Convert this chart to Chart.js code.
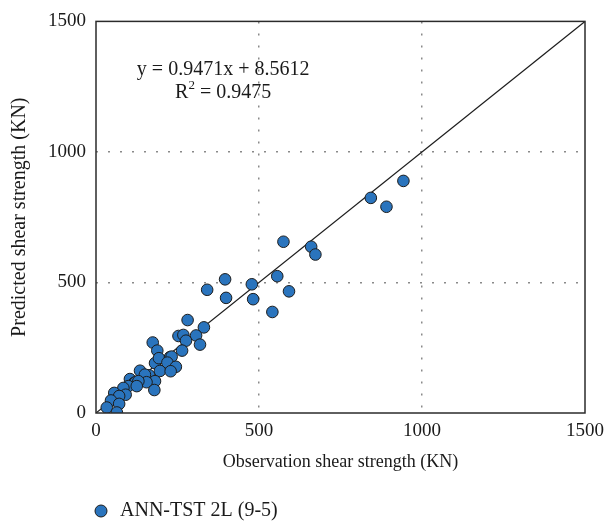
<!DOCTYPE html>
<html>
<head>
<meta charset="utf-8">
<script src="https://cdn.jsdelivr.net/npm/chart.js@4/dist/chart.umd.min.js"></script>
<style>
  html, body { margin: 0; padding: 0; background: #fff; }
  #wrap { width: 612px; height: 526px; }
</style>
</head>
<body>
<div id="wrap"><canvas id="scatterChart"></canvas></div>
<script>
// du lieu doc tu hinh
const obsValues = [943, 843, 891, 575, 660, 673, 556, 592, 541, 478, 482, 396, 399, 341,
  281, 331, 253, 268, 307, 276, 319, 174, 188, 264, 181, 193, 227, 232, 219, 245,
  196, 229, 135, 163, 150, 181, 155, 179, 104, 117, 122, 130, 99, 125, 84, 91, 56,
  71, 46, 33, 71, 64];
const predValues = [889, 824, 790, 656, 637, 607, 524, 466, 387, 493, 436, 512, 441, 472,
  356, 328, 295, 299, 297, 277, 262, 270, 239, 239, 191, 210, 214, 216, 193, 177,
  161, 160, 162, 144, 147, 122, 118, 88, 130, 115, 119, 122, 103, 103, 96, 70, 77,
  65, 48, 21, 35, 2];
const axisTicks = [0, 500, 1000, 1500];
const lineX = [0, 1500];
const seriesName = 'ANN-TST 2L (9-5)';
const eqText = 'y = 0.9471x + 8.5612';
const r2Text = 'R';
const r2Value = ' = 0.9475';

const FONT = '"Liberation Serif", "DejaVu Serif", serif';
const DOT_FILL = '#2a74bd';
const DOT_EDGE = '#1c1c1c';

const points = obsValues.map((v, i) => ({ x: v, y: predValues[i] }));
const linePts = lineX.map(v => ({ x: v, y: v }));

// ve khung, phuong trinh va chu giai
const boxPlugin = {
  id: 'boxPlugin',
  afterDraw(chart) {
    const c = chart.ctx;
    const a = chart.chartArea;
    const xs = chart.scales.x, ys = chart.scales.y;
    c.save();
    c.strokeStyle = '#2b2b2b';
    c.lineWidth = 1.5;
    c.strokeRect(a.left, a.top, a.right - a.left, a.bottom - a.top);

    c.fillStyle = '#1a1a1a';
    c.font = '20px ' + FONT;
    c.textAlign = 'center';
    c.textBaseline = 'middle';
    const cx = xs.getPixelForValue(390);
    c.fillText(eqText, cx, ys.getPixelForValue(1314));
    // R^2
    const y2 = ys.getPixelForValue(1227);
    const wR = c.measureText(r2Text).width;
    const wV = c.measureText(r2Value).width;
    c.font = '13px ' + FONT;
    const wS = c.measureText('2').width;
    const total = wR + wS + wV;
    const x0 = cx - total / 2;
    c.textAlign = 'left';
    c.font = '20px ' + FONT;
    c.fillText(r2Text, x0, y2);
    c.font = '13px ' + FONT;
    c.fillText('2', x0 + wR, y2 - 7);
    c.font = '20px ' + FONT;
    c.fillText(r2Value, x0 + wR + wS, y2);

    // chu giai
    c.beginPath();
    c.arc(101, 511, 6, 0, Math.PI * 2);
    c.fillStyle = DOT_FILL;
    c.fill();
    c.lineWidth = 1;
    c.strokeStyle = DOT_EDGE;
    c.stroke();
    c.fillStyle = '#1a1a1a';
    c.font = '20px ' + FONT;
    c.fillText(seriesName, 120, 511);
    c.restore();
  }
};

const gridColor = ctx => {
  const v = ctx.tick ? ctx.tick.value : null;
  return (v === 500 || v === 1000) ? '#8a8a8a' : 'rgba(0,0,0,0)';
};

const ctx = document.getElementById('scatterChart').getContext('2d');
const chart = new Chart(ctx, {
  type: 'scatter',
  data: {
    datasets: [{
      label: seriesName,
      data: points,
      backgroundColor: DOT_FILL,
      borderColor: DOT_EDGE,
      borderWidth: 1,
      pointRadius: 5.8,
      order: 1
    }, {
      type: 'line',
      label: 'line',
      data: linePts,
      borderColor: '#1e1e1e',
      borderWidth: 1.2,
      pointRadius: 0,
      fill: false,
      order: 2
    }]
  },
  options: {
    responsive: true,
    maintainAspectRatio: false,
    animation: false,
    layout: { padding: { left: 8, right: 27, top: 11, bottom: 53 } },
    scales: {
      x: {
        type: 'linear',
        min: 0, max: 1500,
        afterBuildTicks: s => { s.ticks = axisTicks.map(v => ({ value: v })); },
        grid: { color: gridColor, drawTicks: false, lineWidth: 1.5 },
        border: { display: false, dash: [2, 10] },
        ticks: { color: '#1a1a1a', font: { family: FONT, size: 19 }, padding: 7, maxRotation: 0,
                 callback: v => String(v) },
        title: { display: true, text: 'Observation shear strength (KN)', color: '#1a1a1a',
                 font: { family: FONT, size: 18 }, padding: { top: 4, bottom: 0 } },
        afterFit: s => { s.height = 60; }
      },
      y: {
        type: 'linear',
        min: 0, max: 1500,
        afterBuildTicks: s => { s.ticks = axisTicks.map(v => ({ value: v })); },
        grid: { color: gridColor, drawTicks: false, lineWidth: 1.5 },
        border: { display: false, dash: [2, 10] },
        ticks: { color: '#1a1a1a', font: { family: FONT, size: 19 }, padding: 10,
                 callback: v => String(v) },
        title: { display: true, text: 'Predicted shear strength (KN)', color: '#1a1a1a',
                 font: { family: FONT, size: 20 }, padding: { top: 0, bottom: 4 } },
        afterFit: s => { s.width = 88; }
      }
    },
    plugins: {
      legend: { display: false },
      tooltip: { enabled: false }
    }
  },
  plugins: [boxPlugin]
});
</script>
</body>
</html>
